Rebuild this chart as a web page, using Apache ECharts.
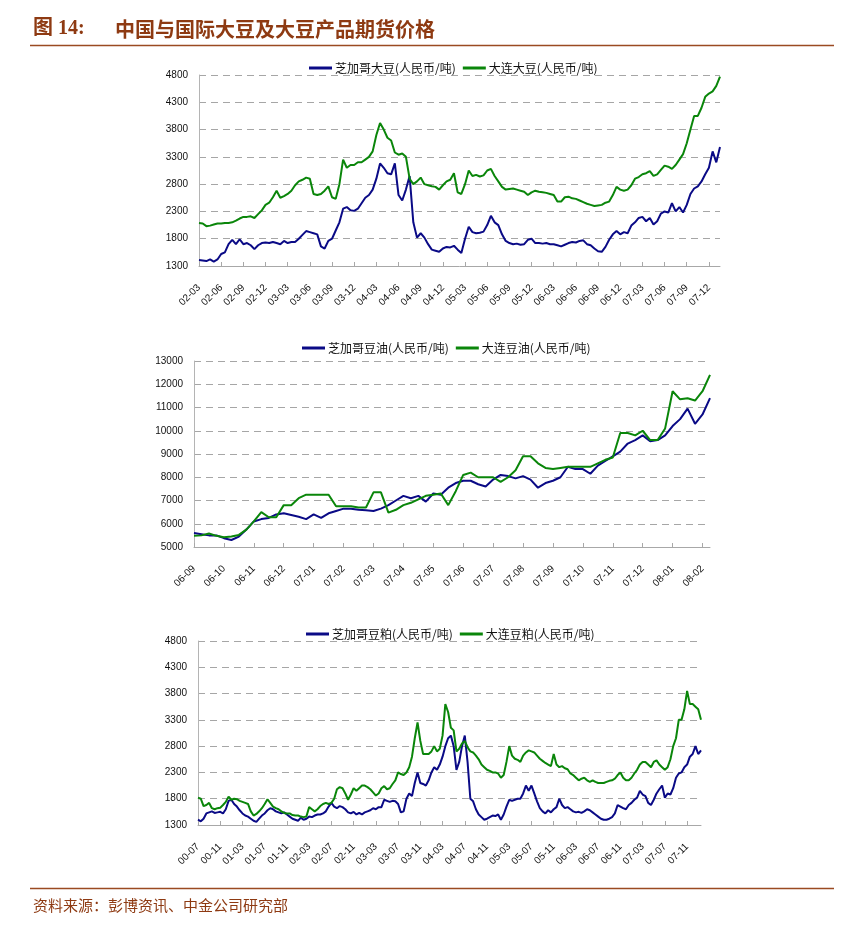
<!DOCTYPE html>
<html>
<head>
<meta charset="utf-8">
<script src="https://cdn.jsdelivr.net/npm/echarts@6/dist/echarts.min.js"></script>
<style>
html, body { margin: 0; padding: 0; background: #fff; }
#main { width: 864px; height: 930px; }
</style>
</head>
<body>
<div id="main"></div>
<script>
// 大豆：2002-03 起，每月两个点
var soyCbot = [
    1410, 1400, 1390, 1420, 1380, 1420, 1520, 1550, 1700, 1780, 1700, 1790, 1700, 1720, 1680, 1610, 1680, 1720, 1730, 1720,
    1740, 1720, 1700, 1760, 1720, 1740, 1740, 1800, 1870, 1940, 1920, 1900, 1880, 1660, 1620, 1760, 1800, 1950, 2100, 2350, 2380, 2320, 2310, 2350,
    2450, 2550, 2600, 2700, 2900, 3180, 3100, 3000, 2980, 3180, 2600, 2500, 2700, 2950, 2100, 1820, 1900, 1820, 1700, 1600, 1580, 1560, 1620, 1650,
    1640, 1670, 1600, 1540, 1800, 2020, 1920, 1900, 1910, 1930, 2050, 2220, 2100, 2050, 1880, 1760, 1720, 1700, 1710, 1690, 1700, 1780, 1800, 1720,
    1720, 1710, 1720, 1700, 1700, 1680, 1660, 1690, 1720, 1740, 1730, 1760, 1770, 1700, 1680, 1620, 1570, 1560, 1650, 1780, 1880, 1940, 1880, 1920,
    1900, 2040, 2100, 2180, 2200, 2120, 2180, 2060, 2120, 2260, 2300, 2280, 2450, 2300, 2380, 2280, 2420, 2620, 2720, 2760, 2850, 2980, 3100, 3400,
    3200, 3480
];
var soyDalian = [
    2090, 2080, 2030, 2040, 2060, 2080, 2080, 2090, 2090, 2100, 2130, 2170, 2200, 2200, 2210, 2180, 2250, 2320, 2420, 2460,
    2560, 2680, 2550, 2580, 2620, 2680, 2780, 2850, 2880, 2920, 2900, 2620, 2600, 2620, 2680, 2760, 2560, 2530, 2800, 3250, 3100, 3150, 3150, 3200,
    3200, 3250, 3300, 3400, 3700, 3920, 3800, 3650, 3600, 3380, 3340, 3360, 3300, 2900, 2800, 2850, 2920, 2800, 2780, 2760, 2750, 2700, 2780, 2850,
    2880, 3000, 2650, 2620, 2800, 3050, 2950, 2970, 2940, 2960, 3050, 3080, 2950, 2850, 2750, 2700, 2710, 2720, 2700, 2680, 2660, 2600, 2650, 2680,
    2660, 2650, 2640, 2620, 2600, 2480, 2480, 2560, 2570, 2540, 2530, 2500, 2470, 2440, 2420, 2400, 2410, 2420, 2460, 2480, 2600, 2750, 2700, 2680,
    2700, 2780, 2900, 2930, 2980, 3000, 3040, 2950, 2980, 3060, 3140, 3120, 3080, 3150, 3250, 3350, 3550, 3800, 4050, 4050, 4200, 4400, 4460, 4500,
    4600, 4770
];
// 豆油：2006-09 起，每月四个点
var oilCbot = [
    5600, 5550, 5500, 5500, 5380, 5300, 5450, 5750, 6100, 6200, 6250, 6400, 6450, 6380, 6300, 6200, 6400, 6250, 6450, 6550,
    6650, 6650, 6600, 6580, 6550, 6650, 6800, 7000, 7200, 7100, 7200, 6950, 7300, 7250, 7550, 7750, 7850, 7850, 7700, 7600,
    7900, 8100, 8050, 7950, 8050, 7900, 7550, 7750, 7850, 8000, 8450, 8350, 8350, 8150, 8500, 8700, 8900, 9100, 9450, 9600,
    9800, 9550, 9600, 9800, 10200, 10500, 10950, 10300, 10700, 11400
];
var oilDalian = [
    5480, 5500, 5580, 5480, 5420, 5450, 5520, 5750, 6100, 6500, 6280, 6280, 6800, 6800, 7100, 7250, 7250, 7250, 7250, 6750,
    6750, 6750, 6700, 6700, 7350, 7350, 6480, 6600, 6800, 6900, 7050, 7200, 7250, 7300, 6800, 7400, 8100, 8200, 8000, 8000,
    8000, 7800, 8000, 8300, 8900, 8900, 8600, 8400, 8350, 8400, 8450, 8450, 8450, 8450, 8600, 8750, 8850, 9900, 9900, 9800,
    10000, 9600, 9600, 10100, 11700, 11350, 11400, 11300, 11700, 12400
];
// 豆粕：2000-07 起，每月两个点
var mealCbot = [
    1400, 1370, 1420, 1520, 1540, 1560, 1530, 1540, 1550, 1520, 1600, 1760, 1780, 1700, 1650, 1580, 1520, 1480, 1460, 1420,
    1380, 1360, 1420, 1480, 1520, 1580, 1620, 1600, 1560, 1540, 1520, 1540, 1500, 1460, 1420, 1400, 1380, 1440, 1400, 1420,
    1460, 1450, 1480, 1500, 1500, 1520, 1560, 1650, 1720, 1650, 1620, 1660, 1640, 1600, 1540, 1520, 1550, 1500, 1530, 1500,
    1540, 1560, 1580, 1620, 1600, 1640, 1640, 1780, 1760, 1740, 1760, 1750, 1700, 1540, 1560, 1800, 1900, 1850, 2100, 2300,
    2100, 2080, 2050, 2150, 2300, 2400, 2350, 2450, 2600, 2800, 2950, 3000, 2800, 2350, 2500, 2800, 3000, 2500, 1800, 1750,
    1600, 1500, 1450, 1400, 1420, 1450, 1480, 1470, 1500, 1400, 1500, 1650, 1780, 1760, 1780, 1800, 1800, 1900, 2050, 1950,
    2050, 1900, 1750, 1620, 1560, 1520, 1580, 1540, 1600, 1640, 1800, 1680, 1620, 1640, 1600, 1560, 1540, 1550, 1530, 1560,
    1600, 1580, 1540, 1500, 1460, 1420, 1400, 1400, 1420, 1450, 1520, 1680, 1650, 1620, 1600, 1680, 1720, 1780, 1820, 1950,
    1880, 1850, 1720, 1680, 1780, 1900, 1980, 2050, 1820, 1900, 1880, 2000, 2200, 2280, 2300, 2400, 2450, 2600, 2650, 2800,
    2650, 2720
];
var mealDalian = [
    1820, 1800, 1660, 1680, 1720, 1620, 1600, 1620, 1630, 1680, 1740, 1840, 1780, 1800, 1790, 1760, 1740, 1720, 1700, 1560,
    1480, 1510, 1560, 1620, 1700, 1790, 1720, 1650, 1620, 1600, 1560, 1530, 1520, 1520, 1490, 1480, 1480, 1460, 1450, 1460,
    1640, 1600, 1560, 1600, 1660, 1700, 1720, 1700, 1720, 1800, 1980, 2020, 2000, 1900, 1780, 1880, 2000, 1950, 2000, 2050,
    2050, 2020, 1980, 1920, 1860, 1900, 2000, 2040, 1980, 2000, 2080, 2150, 2300, 2270, 2250, 2300, 2400, 2600, 2950, 3250,
    2900, 2650, 2650, 2650, 2700, 2800, 2700, 2750, 3000, 3600, 3450, 3150, 3100, 2700, 2750, 2850, 2900, 2780, 2700, 2680,
    2620, 2550, 2450, 2400, 2350, 2330, 2300, 2300, 2280, 2200, 2250, 2500, 2800, 2620, 2560, 2540, 2500, 2620, 2680, 2720,
    2700, 2680, 2620, 2560, 2520, 2480, 2450, 2420, 2650, 2450, 2400, 2420, 2380, 2360, 2280, 2250, 2200, 2150, 2180, 2200,
    2150, 2120, 2150, 2120, 2100, 2100, 2100, 2120, 2140, 2150, 2180, 2250, 2300, 2200, 2150, 2150, 2200, 2280, 2350, 2450,
    2500, 2500, 2450, 2400, 2500, 2530, 2450, 2400, 2350, 2400, 2550, 2800, 2950, 3300, 3300, 3500, 3850, 3600, 3600, 3550,
    3500, 3300
];

var seriesNames = [
    ['芝加哥大豆(人民币/吨)', '大连大豆(人民币/吨)'],
    ['芝加哥豆油(人民币/吨)', '大连豆油(人民币/吨)'],
    ['芝加哥豆粕(人民币/吨)', '大连豆粕(人民币/吨)']
];

// 生成日期类目：年, 月, 每月点数, 总点数
function makeCats(y, m, perMonth, n) {
    var cats = [];
    for (var i = 0; i < n; i++) {
        var k = Math.floor(i / perMonth);
        var mm = m - 1 + k;
        var yy = y + Math.floor(mm / 12);
        mm = mm % 12 + 1;
        cats.push(String(yy).slice(2) + '-' + (mm < 10 ? '0' + mm : mm) + '|' + (i % perMonth));
    }
    return cats;
}
var soyCats = makeCats(2002, 3, 2, soyCbot.length);
var oilCats = makeCats(2006, 9, 4, oilCbot.length);
var mealCats = makeCats(2000, 7, 2, mealCbot.length);

var brown = '#8E3A12';
var blue = '#0A0A86';
var green = '#0A860A';

function xAxisOf(idx, cats, every) {
    return {
        type: 'category',
        gridIndex: idx,
        data: cats,
        boundaryGap: false,
        axisLine: { lineStyle: { color: '#A8A8A8', width: 1 } },
        axisTick: { inside: true, length: 4, interval: every - 1, lineStyle: { color: '#A8A8A8' } },
        axisLabel: {
            interval: every - 1, rotate: 45, margin: 20, fontSize: 10, color: '#111',
            fontFamily: 'Liberation Sans',
            formatter: function (v) { return v.split('|')[0]; }
        },
        splitLine: { show: false }
    };
}
function yAxisOf(idx, min, max, step) {
    return {
        type: 'value',
        gridIndex: idx,
        min: min, max: max, interval: step,
        axisLine: { show: true, lineStyle: { color: '#B4B4B4', width: 1 } },
        axisTick: { show: false },
        axisLabel: {
            fontSize: 10, color: '#111', margin: 11, fontFamily: 'Liberation Sans',
            formatter: function (v) { return String(v); }
        },
        splitLine: { lineStyle: { color: '#A6A6A6', type: [7, 5], width: 1 } }
    };
}
function lineOf(name, idx, data, color) {
    return {
        name: name, type: 'line', xAxisIndex: idx, yAxisIndex: idx,
        data: data, showSymbol: false, symbol: 'none',
        lineStyle: { color: color, width: 2 }, itemStyle: { color: color }
    };
}
function legendOf(idx, left, top) {
    return {
        data: seriesNames[idx], left: left, top: top,
        icon: 'rect', itemWidth: 23, itemHeight: 3, itemGap: 7,
        textStyle: { fontSize: 12, color: '#111', fontFamily: 'Noto Sans CJK SC', padding: [0, 0, 0, -2] }
    };
}

var myChart = echarts.init(document.getElementById('main'), null, { renderer: 'canvas' });
var option = {
    animation: false,
    backgroundColor: '#fff',
    grid: [
        { left: 199, top: 75, width: 521, height: 191 },
        { left: 194, top: 361, width: 516, height: 186 },
        { left: 198, top: 641, width: 503, height: 184 }
    ],
    legend: [
        legendOf(0, 304, 57),
        legendOf(1, 297, 337),
        legendOf(2, 301, 623)
    ],
    xAxis: [
        xAxisOf(0, soyCats, 6),
        xAxisOf(1, oilCats, 4),
        xAxisOf(2, mealCats, 8)
    ],
    yAxis: [
        yAxisOf(0, 1300, 4800, 500),
        yAxisOf(1, 5000, 13000, 1000),
        yAxisOf(2, 1300, 4800, 500)
    ],
    series: [
        lineOf(seriesNames[0][0], 0, soyCbot, blue),
        lineOf(seriesNames[0][1], 0, soyDalian, green),
        lineOf(seriesNames[1][0], 1, oilCbot, blue),
        lineOf(seriesNames[1][1], 1, oilDalian, green),
        lineOf(seriesNames[2][0], 2, mealCbot, blue),
        lineOf(seriesNames[2][1], 2, mealDalian, green)
    ],
    graphic: [
        {
            type: 'text', left: 33, top: 19,
            style: { text: '图 14:', fontSize: 20, fontWeight: 'bold', fontFamily: 'Liberation Serif, Noto Sans CJK SC', fill: brown }
        },
        {
            type: 'text', left: 115, top: 19,
            style: { text: '中国与国际大豆及大豆产品期货价格', fontSize: 20, fontWeight: 'bold', fontFamily: 'Noto Sans CJK SC', fill: brown }
        },
        {
            type: 'line', shape: { x1: 30, y1: 45.5, x2: 834, y2: 45.5 },
            style: { stroke: '#9A4A22', lineWidth: 1.5 }
        },
        {
            type: 'line', shape: { x1: 30, y1: 888.5, x2: 834, y2: 888.5 },
            style: { stroke: '#9A4A22', lineWidth: 1.5 }
        },
        {
            type: 'text', left: 33, top: 898,
            style: { text: '资料来源：彭博资讯、中金公司研究部', fontSize: 15, fontFamily: 'Noto Sans CJK SC', fill: brown }
        }
    ]
};
myChart.setOption(option);
</script>
</body>
</html>
